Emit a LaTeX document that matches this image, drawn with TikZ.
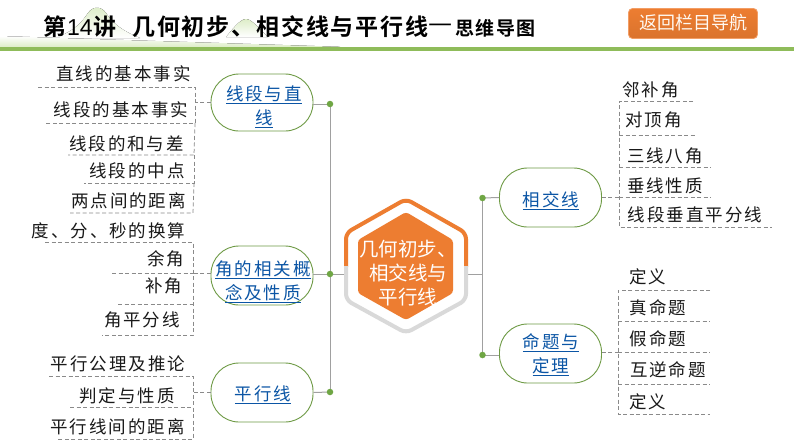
\documentclass[tikz,border=0pt]{standalone}
\usepackage{fontspec}
\setmainfont{Noto Sans CJK SC}
\newfontfamily\leaffont[LetterSpace=11]{Noto Sans CJK SC}
\newfontfamily\titlefont[BoldFont={Noto Sans CJK SC Bold}]{Noto Sans CJK SC}
\newfontfamily\digitfont{Liberation Sans}
\definecolor{nodegreen}{HTML}{6E9A45}
\definecolor{dotgreen}{HTML}{6FA644}
\definecolor{rulegreen}{HTML}{8FBC5A}
\definecolor{hillgreen}{HTML}{DDEDC8}
\definecolor{linkblue}{HTML}{0B55A5}
\definecolor{hexorange}{HTML}{ED7D31}
\definecolor{ringgray}{HTML}{D9D9D9}
\definecolor{linkgray}{HTML}{A0A0A0}
\definecolor{dashgray}{HTML}{8A8A8A}
\newcommand{\lk}[1]{\underline{#1}}
\tikzset{
  x=1pt,y=-1pt,
  leaf/.style={inner sep=0pt,font=\leaffont\fontsize{17.5}{20}\selectfont,text=black!90},
  topic/.style={draw=nodegreen,line width=0.9pt,fill=white,rounded corners=28pt,minimum width=102pt,inner sep=0pt},
  topictext/.style={inner sep=0pt,align=center,text=linkblue,font=\leaffont\fontsize{17.5}{24}\selectfont},
  dot/.style={circle,fill=dotgreen,draw=none,minimum size=6.5pt,inner sep=0pt},
  trunk/.style={draw=linkgray,line width=1pt},
  dashline/.style={draw=dashgray,line width=0.75pt,dash pattern=on 4pt off 2.5pt},
  titlepart/.style={anchor=west,inner sep=0pt,font=\titlefont\bfseries\fontsize{23}{25}\selectfont},
}
\begin{document}
\begin{tikzpicture}
\useasboundingbox (0,0) rectangle (794,447);
\fill[white] (0,0) rectangle (794,447);
% header hills
\fill[top color=hillgreen,bottom color=white] (60,36) .. controls (75,30) and (82,22) .. (88,13) .. controls (93,6) and (101,6) .. (106,13) .. controls (112,22) and (120,30) .. (140,38) -- (60,38) -- cycle;
\fill[top color=hillgreen,bottom color=white] (226,37) .. controls (232,30) and (240,19) .. (246,19) .. controls (252,19) and (260,30) .. (268,37) -- cycle;
\fill[top color=white,bottom color=hillgreen] (0,36) -- (60,38) -- (340,46.8) -- (0,46.8) -- cycle;
\fill[rulegreen] (0,46.8) rectangle (794,50.5);
% title
\node[titlepart] (t1) at (43,27) {第};
\node[anchor=west,inner sep=0pt,font=\digitfont\fontsize{23}{25}\selectfont] (t2) at (67,27.5) {14};
\node[titlepart] (t3) at (93,27) {讲};
\node[titlepart] (t4) at (132,27) {\addfontfeature{LetterSpace=8}几何初步、相交线与平行线};
\node[anchor=west,inner sep=0pt,font=\titlefont\fontsize{27}{27}\selectfont] (t6) at (428,28.5) {—};
\node[anchor=west,inner sep=0pt,font=\titlefont\bfseries\fontsize{19}{25}\selectfont] (t5) at (455,28) {\addfontfeature{LetterSpace=8}思维导图};
% button
\node[rounded corners=4pt,top color=hexorange,bottom color=hexorange!92!black,draw=hexorange!75!white,line width=0.8pt,minimum width=129pt,minimum height=30pt,inner sep=0pt] (btn) at (693,23.5) {};
\node[inner sep=0pt,text=white!95!orange,font=\fontsize{18}{20}\selectfont] (btnt) at (693.5,23) {返回栏目导航};
% trunk
\coordinate (dl1) at (330,104);
\coordinate (dl2) at (330,274);
\coordinate (dl3) at (330,392);
\coordinate (dr1) at (482.5,198);
\coordinate (dr2) at (482.5,355);
\draw[trunk] (dl1) -- (dl3);
\draw[trunk] (dr1) -- (dr2);
% central hexagon
\coordinate (hl) at (344,274);
\coordinate (hr) at (468,274);
\draw[trunk] (hl) -- (dl2);
\draw[trunk] (hr) -- (482.5,274);
\begin{scope}
\clip (330,190) rectangle (480,266);
\draw[hexorange,line width=4pt,line join=round,rounded corners=6pt] (406,199) -- (466,233) -- (466,300) -- (406,333) -- (346,300) -- (346,233) -- cycle;
\end{scope}
\begin{scope}
\clip (330,266) rectangle (480,345);
\draw[ringgray,line width=4pt,line join=round,rounded corners=6pt] (406,199) -- (466,233) -- (466,300) -- (406,333) -- (346,300) -- (346,233) -- cycle;
\end{scope}
\fill[hexorange,rounded corners=3pt] (406,212) -- (453,240) -- (453,293) -- (406,320) -- (358,293) -- (358,240) -- cycle;
\node[inner sep=0pt,text=white,align=center,font=\fontsize{19.5}{24}\selectfont] (hub) at (408,273.5) {几何初步、\\相交线与\\平行线};
% topics
\node[topic,minimum height=57pt] (a) at (262,102.5) {};
\node[topic,minimum height=59pt] (b) at (262,275.5) {};
\node[topic,minimum height=59pt] (c) at (262,392.5) {};
\node[topic,minimum height=59pt] (d) at (550.5,197.5) {};
\node[topic,minimum height=59pt] (e) at (550.5,353.5) {};
\node[topictext] (at) at (264,107) {\lk{线段与直}\\\lk{线}};
\node[topictext] (bt) at (263,282) {\lk{角的相关概}\\\lk{念及性质}};
\node[topictext] (ct) at (263,395) {\lk{平行线}};
\node[topictext] (dt) at (551,200.5) {\lk{相交线}};
\node[topictext] (et) at (551,355) {\lk{命题与}\\\lk{定理}};
% connectors to dots
\draw[trunk] ([yshift=-1.5pt]a.east) -- (dl1);
\draw[trunk] ([yshift=1.5pt]b.east) -- (dl2);
\draw[trunk] (c.east) -- (dl3);
\draw[trunk] (d.west) -- (dr1);
\draw[trunk] ([yshift=-1.5pt]e.west) -- (dr2);
\node[dot] at (dl1) {};
\node[dot] at (dl2) {};
\node[dot] at (dl3) {};
\node[dot] at (dr1) {};
\node[dot] at (dr2) {};
% left leaves
\node[leaf] (l1) at (123.5,74) {直线的基本事实};
\node[leaf] (l2) at (121,110) {线段的基本事实};
\node[leaf] (l3) at (126.5,144) {线段的和与差};
\node[leaf] (l4) at (137,171) {线段的中点};
\node[leaf] (l5) at (128.5,201) {两点间的距离};
\node[leaf] (l6) at (108.5,231) {度、分、秒的换算};
\node[leaf] (l7) at (166,259) {余角};
\node[leaf] (l8) at (164,286) {补角};
\node[leaf] (l9) at (142,320) {角平分线};
\node[leaf] (l10) at (118,364) {平行公理及推论};
\node[leaf] (l11) at (127,396) {判定与性质};
\node[leaf] (l12) at (117.5,427) {平行线间的距离};
% left dashes
\draw[dashline] (38,87) -- (195,87) -- (195,123) -- (45,123);
\draw[dashline] (195,123) -- (194,155) -- (68,155);
\draw[dashline] (194,155) -- (194,183) -- (84,183);
\draw[dashline] (194,183) -- (193,213) -- (70,213);
\draw[dashline] (45,242) -- (193,242) -- (193,335) -- (102,335);
\draw[dashline] (112,273) -- (193,273);
\draw[dashline] (118,304) -- (193,304);
\draw[dashline] (49,376) -- (193,376) -- (193,439) -- (57,439);
\draw[dashline] (70,407) -- (193,407);
\draw[dashline] (a.west) -- (195,102.5);
\draw[dashline] ([yshift=2.5pt]b.west) -- (193,273);
\draw[dashline] (c.west) -- (193,392.5);
% right leaves
\node[leaf] (r1) at (650.5,90) {邻补角};
\node[leaf] (r2) at (653.5,120) {对顶角};
\node[leaf] (r3) at (665,156) {三线八角};
\node[leaf] (r4) at (665,186) {垂线性质};
\node[leaf] (r5) at (695,215) {线段垂直平分线};
\node[leaf] (r6) at (648,277) {定义};
\node[leaf] (r7) at (658,308) {真命题};
\node[leaf] (r8) at (658,339) {假命题};
\node[leaf] (r9) at (668,370) {互逆命题};
\node[leaf] (r10) at (648,402) {定义};
% right dashes
\draw[dashline] (693,101) -- (619,101) -- (619,227) -- (772,227);
\draw[dashline] (619,135) -- (695,135);
\draw[dashline] (619,167) -- (711,167);
\draw[dashline] (619,197.5) -- (711,197.5);
\draw[dashline] (710,290) -- (618,290) -- (618,414) -- (710,414);
\draw[dashline] (618,321) -- (710,321);
\draw[dashline] (618,352) -- (710,352);
\draw[dashline] (618,384) -- (710,384);
\draw[dashline] (d.east) -- (619,197.5);
\draw[dashline] ([yshift=1.5pt]e.east) -- (618,352);
\end{tikzpicture}
\end{document}
